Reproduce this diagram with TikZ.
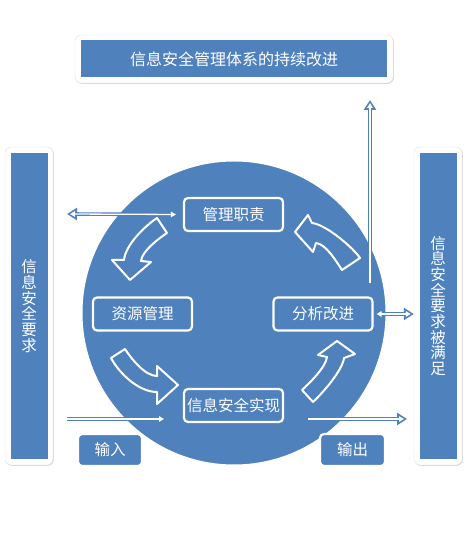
\documentclass[tikz,border=0pt]{standalone}
\usepackage{fontspec}
\setmainfont{Noto Sans CJK SC}
\usetikzlibrary{positioning,arrows.meta,shadows}
\definecolor{ppblue}{HTML}{4F81BD}

\tikzset{
  frame/.style={fill=white, draw=black!12, line width=0.4pt, rounded corners=6pt,
    drop shadow={shadow xshift=0.8pt, shadow yshift=-0.8pt, opacity=0.3}},
  bar/.style={fill=ppblue, text=white, inner sep=0pt, align=center,
    font=\fontsize{15.5}{15.7}\selectfont},
  stage/.style={draw=white, line width=2.2pt, fill=ppblue, rounded corners=4pt,
    text=white, inner sep=0pt, minimum width=99pt, minimum height=33pt,
    font=\fontsize{15.5}{18}\selectfont},
  flow/.style={fill=ppblue, draw=white, line width=2pt, line join=round},
  feed/.style={draw=ppblue, line width=3.6pt, -{Triangle[length=10pt,width=12pt]},
    postaction={draw=white, line width=1.3pt, shorten >=3pt,
      -{Triangle[length=5pt,width=5.5pt]}}},
  feedboth/.style={draw=ppblue, line width=3.6pt,
    {Triangle[length=10pt,width=12pt]}-{Triangle[length=10pt,width=12pt]},
    postaction={draw=white, line width=1.3pt, shorten >=3pt, shorten <=3pt,
      {Triangle[length=5pt,width=5.5pt]}-{Triangle[length=5pt,width=5.5pt]}}}
}

\begin{document}
\begin{tikzpicture}[x=1pt, y=1pt]
  \useasboundingbox (0,0) rectangle (467,560);

  % outer frames
  \node[frame, minimum width=318pt, minimum height=48pt] (topfr) at (234,501) {};
  \node[bar, minimum width=306pt, minimum height=37pt,
        font=\fontsize{16}{18}\selectfont] (goal) at (topfr) {信息安全管理体系的持续改进};
  \node[frame, minimum width=48pt, minimum height=318pt] (lfr) at (29,254) {};
  \node[bar, minimum width=37pt, minimum height=306pt] (req) at (lfr) {信\\息\\安\\全\\要\\求};
  \node[frame, minimum width=48pt, minimum height=318pt] (rfr) at (438,254) {};
  \node[bar, minimum width=37pt, minimum height=306pt] (sat) at (rfr) {信\\息\\安\\全\\要\\求\\被\\满\\足};

  % cycle
  \node[circle, fill=ppblue, draw=white, line width=3pt, minimum size=306pt,
        drop shadow={shadow xshift=0.8pt, shadow yshift=-0.8pt, opacity=0.3}] (cyc) at (234,247) {};

  % curved arrows
  \draw[flow] (157,342) -- (167,327) .. controls (158.7,321.5) and (142,309) .. (141,299)
    -- (151,298) -- (130,280) -- (112,300) -- (124,300)
    .. controls (125.5,315) and (144.5,333.7) .. (157,342) -- cycle;
  \draw[flow] (111,202) -- (125,211) .. controls (131.5,201) and (145,184) .. (157,184)
    -- (157,194) -- (178,175) -- (157,156) -- (157,168)
    .. controls (139,168) and (119.7,185.9) .. (111,202) -- cycle;
  \draw[flow] (302,170) -- (313,158) .. controls (321.9,166) and (342.8,190) .. (344,202)
    -- (355,206) -- (337,219) -- (318,205) -- (327,203)
    .. controls (326,193) and (309.4,176.7) .. (302,170) -- cycle;
  \draw[flow] (342,290) -- (360,302) .. controls (353.4,312) and (326,335.6) .. (312,337)
    -- (308,345) -- (295,328) -- (313,308) -- (316,317)
    .. controls (326,316) and (336.5,298.3) .. (342,290) -- cycle;

  % stages
  \node[stage] (duty) at (233.5,345.5) {管理职责};
  \node[stage] (res) at (142.5,246) {资源管理};
  \node[stage] (impl) at (233.5,154.5) {信息安全实现};
  \node[stage] (ana) at (323,246) {分析改进};
  \node[stage, minimum width=64pt, minimum height=32pt,
        drop shadow={shadow xshift=0.8pt, shadow yshift=-0.8pt, opacity=0.3}] (in) at (110,110) {输入};
  \node[stage, minimum width=65pt, minimum height=32pt,
        drop shadow={shadow xshift=0.8pt, shadow yshift=-0.8pt, opacity=0.3}] (out) at (352.5,110) {输出};

  % thin arrows
  \coordinate (reqR) at (67,346);
  \coordinate (inS) at (67,141);
  \coordinate (inE) at (167,141);
  \coordinate (outS) at (308,141);
  \coordinate (outE) at (407,141);
  \coordinate (upS) at (370,277);
  \coordinate (upE) at (370,460);
  \draw[feedboth] (reqR) -- ([xshift=-4pt]duty.west);
  \draw[feed] (inS) -- (inE);
  \draw[feed] (outS) -- (outE);
  \draw[feedboth] (ana.east) -- (ana.east -| rfr.west);
  \draw[feed] (upS) -- (upE);
\end{tikzpicture}
\end{document}
